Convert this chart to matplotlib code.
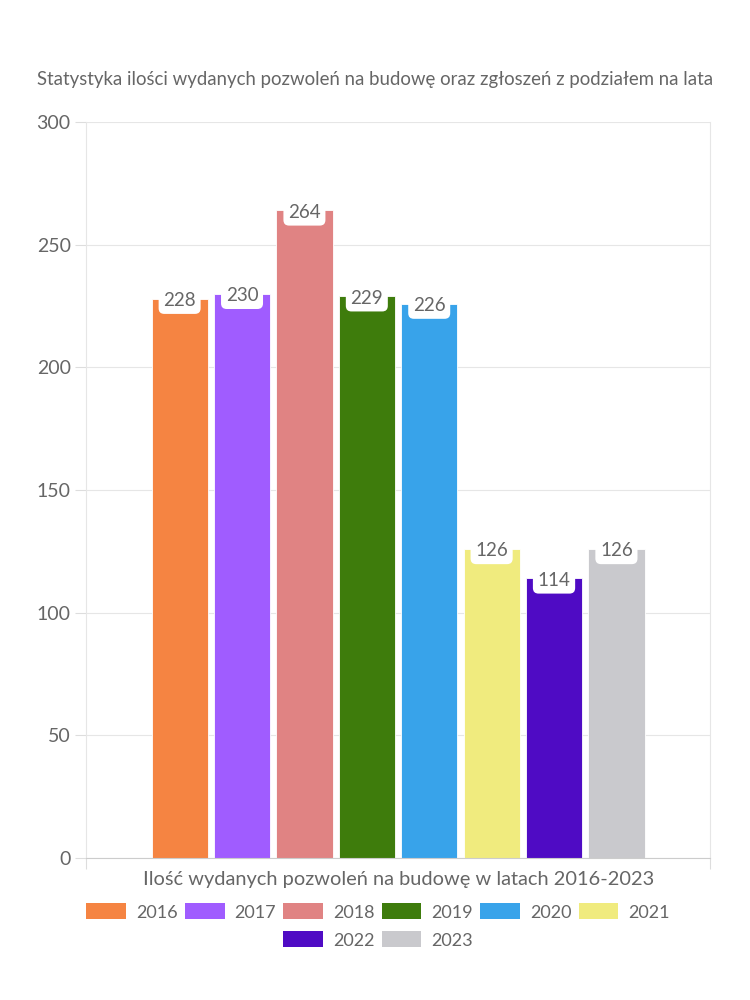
import matplotlib.pyplot as plt
from matplotlib.patches import Patch

years = ["2016", "2017", "2018", "2019", "2020", "2021", "2022", "2023"]
permits = [228, 230, 264, 229, 226, 126, 114, 126]
colors = ["#F58442", "#A05CFF", "#E08383", "#3E7C0C",
          "#38A3EA", "#F0EB7E", "#4F0BC4", "#C9C9CD"]
y_ticks = [0, 50, 100, 150, 200, 250, 300]

title = "Statystyka ilości wydanych pozwoleń na budowę oraz zgłoszeń z podziałem na lata"
xlabel = "Ilość wydanych pozwoleń na budowę w latach 2016-2023"

TXT = "#666666"
plt.rcParams["font.family"] = ["Lato", "DejaVu Sans"]

fig = plt.figure(figsize=(7.5, 10), dpi=100)
ax = fig.add_axes([0.1147, 0.142, 0.832, 0.736])

# group of bars occupies ~80% of the category width
n = len(years)
step = 0.1
width = 0.09
xs = [-step * n / 2 + step * (i + 0.5) for i in range(n)]

ax.bar(xs, permits, width=width, color=colors, edgecolor="white",
       linewidth=0.6, zorder=2)

for x, v in zip(xs, permits):
    ax.annotate(str(v), (x, v), xytext=(0, -1.5), textcoords="offset points",
                ha="center", va="center", fontsize=13.5, color=TXT, zorder=3,
                bbox=dict(boxstyle="round,pad=0.25,rounding_size=0.3",
                          fc="white", ec="none"))

ax.set_xlim(-0.5, 0.5)
ax.set_ylim(0, 300)
ax.set_yticks(y_ticks)
ax.set_xticks([-0.5, 0.5])
ax.set_xticklabels(["", ""])
ax.tick_params(axis="y", length=8, color="#dddddd", labelsize=14,
               labelcolor=TXT, pad=3)
ax.tick_params(axis="x", length=8, color="#dddddd")
ax.grid(axis="y", color="#e6e6e6", linewidth=0.8, zorder=0)
for side in ["left", "right", "top"]:
    ax.spines[side].set_color("#e6e6e6")
ax.spines["bottom"].set_color("#cccccc")
ax.spines["top"].set_visible(False)

fig.text(0.5, 0.92, title, ha="center", va="center", fontsize=13.4, color=TXT)
fig.text(0.532, 0.12, xlabel, ha="center", va="center", fontsize=14.4,
         color=TXT)

# legend in two centred rows (6 + 2), row-major like the original
handles = [Patch(facecolor=c, edgecolor="none") for c in colors]
leg_kw = dict(frameon=False, fontsize=13, labelcolor=TXT, handlelength=2.2,
              handleheight=0.97, columnspacing=0.4, handletextpad=0.55,
              borderpad=0, borderaxespad=0)
fig.legend(handles[:6], years[:6], loc="center",
           bbox_to_anchor=(0.504, 0.088), ncol=6, **leg_kw)
fig.legend(handles[6:], years[6:], loc="center",
           bbox_to_anchor=(0.504, 0.06), ncol=2, **leg_kw)

fig.savefig("out.png", dpi=100, facecolor="white")
